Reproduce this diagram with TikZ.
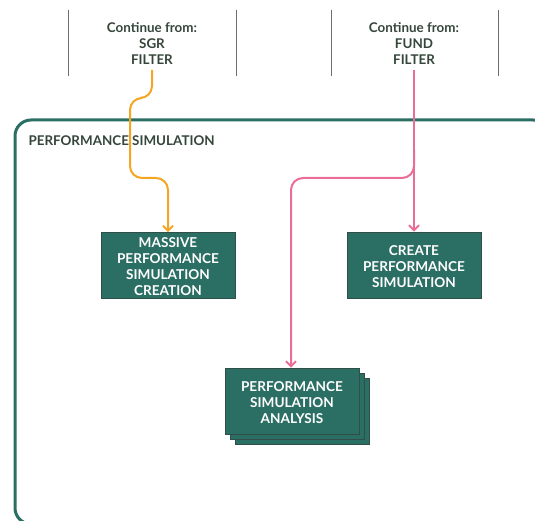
\documentclass[tikz,border=0pt]{standalone}
\usepackage{fontspec}
\setmainfont{Lato}
\usetikzlibrary{arrows.meta}
\definecolor{teal}{HTML}{2B6E64}
\definecolor{tealdark}{HTML}{2F4F48}
\definecolor{inkgreen}{HTML}{35463A}
\definecolor{flowor}{HTML}{F4A623}
\definecolor{flowpk}{HTML}{EA6C98}
\definecolor{rule}{HTML}{6E6E6E}
\tikzset{
  procbox/.style={draw=tealdark, line width=0.8pt, fill=teal,
    minimum width=134pt, minimum height=66pt, inner sep=0pt},
  proctext/.style={text=white, font=\bfseries\fontsize{13.6}{16}\selectfont,
    align=center, inner sep=0pt},
  srclabel/.style={text=inkgreen, font=\bfseries\fontsize{13.4}{16}\selectfont, align=center},
  divider/.style={draw=rule, line width=1pt},
  flow/.style={line width=2pt, rounded corners=12pt, -{Straight Barb[length=5pt,width=10pt]}},
}
\begin{document}
\begin{tikzpicture}[x=1pt,y=-1pt]
\useasboundingbox (0,0) rectangle (535,521);
% source panels
\draw[divider] (68,10) -- (68,76);
\draw[divider] (236,10) -- (236,76);
\draw[divider] (331,10) -- (331,76);
\draw[divider] (498,10) -- (498,76);
\node[srclabel] (sgr) at (152,43.5) {Continue from:\\SGR\\FILTER};
\node[srclabel] (fund) at (414,43.5) {Continue from:\\FUND\\FILTER};
\coordinate (sgrout) at (152,70);
\coordinate (fundout) at (414,70);
% container, running past the page edges on the right and bottom
\draw[teal, line width=3pt, rounded corners=16pt] (15,120) rectangle (549,524);
\node[anchor=west, text=inkgreen, font=\bfseries\fontsize{13.4}{15}\selectfont] (title) at (25,141) {PERFORMANCE SIMULATION};
% process boxes, each with its caption set slightly below centre
\node[procbox] (massive) at (168,265.5) {};
\node[proctext] (massivetxt) at ([yshift=-1.5pt]massive.center) {MASSIVE\\PERFORMANCE\\SIMULATION\\CREATION};
\node[procbox] (create) at (414,265) {};
\node[proctext] (createtxt) at ([yshift=-1.5pt]create.center) {CREATE\\PERFORMANCE\\SIMULATION};
\node[procbox] (ana2) at (302,411) {};
\node[procbox] (ana1) at (297,406) {};
\node[procbox] (analysis) at (292,401) {};
\node[proctext] (analysistxt) at ([yshift=-1.5pt]analysis.center) {PERFORMANCE\\SIMULATION\\ANALYSIS};
% connectors
\draw[flow, flowor] (sgrout) -- (152,98) -- (130,98) -- (130,178) -- (168,178) -- (massive.north);
\draw[flow, flowpk] (fundout) -- (create.north);
\draw[flow, flowpk] (414,150) -- (414,178) -- (291,178) -- (analysis.north -| 291,0);
\end{tikzpicture}
\end{document}
